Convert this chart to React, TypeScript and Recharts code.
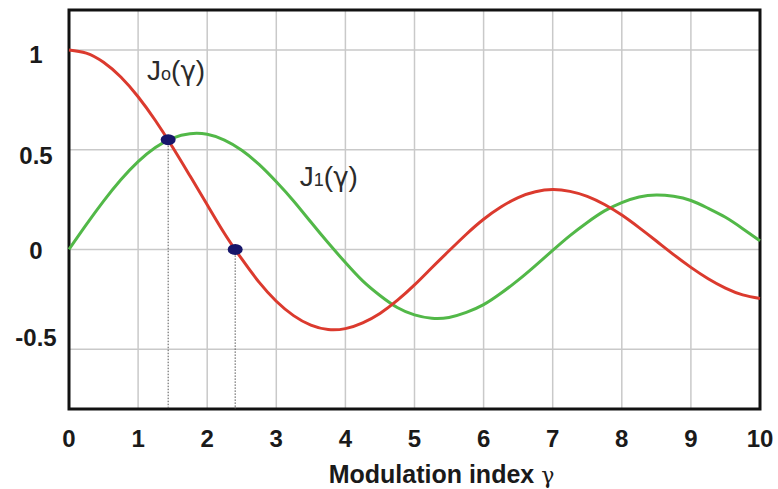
import {
  ComposedChart,
  Line,
  XAxis,
  YAxis,
  CartesianGrid,
  ReferenceArea,
  ReferenceLine,
  ReferenceDot,
} from "recharts";

// modulation index gamma, sampled every 0.25
const gammaValues = [
  0, 0.25, 0.5, 0.75, 1, 1.25, 1.5, 1.75, 2, 2.25, 2.5, 2.75, 3, 3.25, 3.5, 3.75, 4, 4.25, 4.5, 4.75, 5,
  5.25, 5.5, 5.75, 6, 6.25, 6.5, 6.75, 7, 7.25, 7.5, 7.75, 8, 8.25, 8.5, 8.75, 9, 9.25, 9.5, 9.75, 10,
];

// J0(gamma) — red curve
const j0Values = [
  1.0, 0.984, 0.938, 0.864, 0.765, 0.646, 0.512, 0.369, 0.224, 0.08, -0.048, -0.164, -0.26, -0.332,
  -0.38, -0.402, -0.397, -0.368, -0.321, -0.256, -0.178, -0.092, -0.007, 0.076, 0.151, 0.212, 0.26,
  0.289, 0.3, 0.291, 0.266, 0.225, 0.172, 0.109, 0.042, -0.026, -0.09, -0.147, -0.194, -0.228, -0.246,
];

// J1(gamma) — green curve
const j1Values = [
  0, 0.124, 0.242, 0.349, 0.44, 0.511, 0.558, 0.58, 0.577, 0.548, 0.497, 0.426, 0.339, 0.243, 0.137,
  0.033, -0.066, -0.158, -0.231, -0.291, -0.328, -0.345, -0.341, -0.316, -0.277, -0.22, -0.154, -0.081,
  -0.005, 0.069, 0.135, 0.193, 0.235, 0.263, 0.273, 0.266, 0.245, 0.206, 0.161, 0.104, 0.043,
];

const xTicks = [0, 1, 2, 3, 4, 5, 6, 7, 8, 9, 10];
const yTicks = [-0.5, 0, 0.5, 1];

// highlighted points (J0 = J1 crossing, first zero of J0)
const markerX = [1.435, 2.405];
const markerY = [0.55, 0];

const data = gammaValues.map((g, i) => ({ g, j0: j0Values[i], j1: j1Values[i] }));

const W = 778;
const H = 489;
const FONT = "'Liberation Sans', Arial, sans-serif";

// small hand nudges so the y labels sit like the original
const yLabelNudge: Record<string, number> = { "1": 5, "0.5": 6, "0": 2, "-0.5": -11 };

const XTick = (props: any) => {
  const { x, y, payload } = props;
  return (
    <text x={x} y={y + 30} textAnchor="middle" fontFamily={FONT} fontWeight="bold" fontSize={24} fill="#1a1a1a">
      {payload.value}
    </text>
  );
};

const YTick = (props: any) => {
  const { x, y, payload } = props;
  const nudge = yLabelNudge[String(payload.value)] ?? 0;
  return (
    <text x={x - 25} y={y + 8 + nudge} textAnchor="middle" fontFamily={FONT} fontWeight="bold" fontSize={24} fill="#1a1a1a">
      {payload.value}
    </text>
  );
};

const AxisTitle = (props: any) => {
  const { viewBox } = props;
  const cx = viewBox.x + viewBox.width / 2 + 27;
  return (
    <text x={cx} y={viewBox.y + 74} textAnchor="middle" fontFamily={FONT} fontSize={25} fill="#1a1a1a">
      <tspan fontWeight="bold">Modulation index </tspan>
      <tspan fontFamily="'DejaVu Serif', serif" fontSize={22}>
        γ
      </tspan>
    </text>
  );
};

const Marker = (props: any) => (
  <ellipse cx={props.cx} cy={props.cy} rx={7.5} ry={5.5} fill="#17166b" />
);

const CurveLabel = (sub: string) => (props: any) => (
  <text x={props.cx} y={props.cy} fontFamily={FONT} fontSize={28} fill="#2b2b2b">
    J<tspan fontSize={18}>{sub}</tspan>(<tspan fontFamily="'DejaVu Sans', sans-serif" fontSize={26}>γ</tspan>)
  </text>
);

export default function App() {
  return (
    <div style={{ position: "absolute", left: 0, top: 0, background: "#fff" }}>
      <ComposedChart width={W} height={H} data={data} margin={{ top: 10, right: 18, left: 0, bottom: 0 }}>
        <CartesianGrid stroke="#c9c9c9" strokeWidth={1.5} />
        <XAxis
          dataKey="g"
          type="number"
          domain={[0, 10]}
          ticks={xTicks}
          tick={<XTick />}
          tickLine={false}
          axisLine={false}
          height={80}
          interval={0}
          label={<AxisTitle />}
        />
        <YAxis
          type="number"
          domain={[-0.8, 1.2]}
          ticks={yTicks}
          tick={<YTick />}
          tickLine={false}
          axisLine={false}
          width={69}
          interval={0}
        />
        {markerX.map((mx, i) => (
          <ReferenceLine
            key={`drop-${i}`}
            segment={[
              { x: mx, y: markerY[i] },
              { x: mx, y: -0.8 },
            ]}
            stroke="#555"
            strokeWidth={1}
            strokeDasharray="1.5 1.5"
          />
        ))}
        <Line type="natural" dataKey="j1" stroke="#52b848" strokeWidth={3} dot={false} isAnimationActive={false} />
        <Line type="natural" dataKey="j0" stroke="#db3a2e" strokeWidth={3} dot={false} isAnimationActive={false} />
        {markerX.map((mx, i) => (
          <ReferenceDot key={`dot-${i}`} x={mx} y={markerY[i]} r={6} shape={<Marker />} />
        ))}
        <ReferenceDot x={1.13} y={0.85} r={1} shape={CurveLabel("o")} />
        <ReferenceDot x={3.34} y={0.32} r={1} shape={CurveLabel("1")} />
        <ReferenceArea x1={0} x2={10} y1={-0.8} y2={1.2} fill="none" stroke="#111" strokeWidth={3} />
      </ComposedChart>
    </div>
  );
}
